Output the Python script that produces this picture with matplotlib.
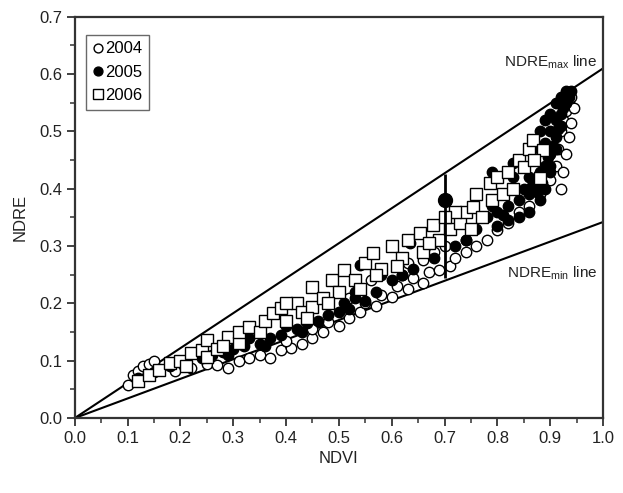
import matplotlib
matplotlib.use("Agg")
import matplotlib.pyplot as plt
from matplotlib.ticker import MultipleLocator

plt.rcParams['font.family'] = ['Liberation Sans', 'DejaVu Sans']

# ---- data ----
x2004 = [0.10, 0.11, 0.12, 0.13, 0.14, 0.15, 0.16, 0.19, 0.22, 0.25, 0.27, 0.29,
         0.31, 0.33, 0.35, 0.37, 0.39, 0.41, 0.43, 0.45, 0.47, 0.48, 0.50, 0.52,
         0.54, 0.55, 0.57, 0.58, 0.60, 0.61, 0.63, 0.64, 0.66, 0.67, 0.69, 0.71,
         0.72, 0.74, 0.76, 0.78, 0.80, 0.82, 0.84, 0.86, 0.88, 0.90, 0.91, 0.915,
         0.92, 0.925, 0.93, 0.935, 0.94, 0.63, 0.68, 0.70, 0.56, 0.52,
         0.945, 0.94, 0.935, 0.93, 0.925, 0.92, 0.62, 0.66, 0.74, 0.45, 0.40]
y2004 = [0.058, 0.075, 0.082, 0.090, 0.095, 0.100, 0.085, 0.082, 0.088, 0.095, 0.092, 0.088,
         0.100, 0.105, 0.110, 0.105, 0.118, 0.122, 0.130, 0.140, 0.150, 0.168, 0.160, 0.175,
         0.185, 0.200, 0.195, 0.215, 0.211, 0.230, 0.225, 0.245, 0.236, 0.255, 0.258, 0.265,
         0.280, 0.290, 0.300, 0.310, 0.328, 0.340, 0.360, 0.370, 0.390, 0.415, 0.440, 0.470,
         0.500, 0.520, 0.535, 0.550, 0.560, 0.270, 0.290, 0.300, 0.240, 0.210,
         0.540, 0.515, 0.490, 0.460, 0.430, 0.400, 0.250, 0.275, 0.310, 0.155, 0.135]

x2005 = [0.12, 0.15, 0.18, 0.21, 0.24, 0.26, 0.28, 0.30, 0.32, 0.33, 0.35, 0.37,
         0.39, 0.40, 0.42, 0.44, 0.46, 0.48, 0.50, 0.52, 0.53, 0.55, 0.57, 0.58,
         0.60, 0.62, 0.64, 0.635, 0.68, 0.72, 0.74, 0.76, 0.78, 0.79, 0.79, 0.80,
         0.82, 0.83, 0.84, 0.85, 0.86, 0.86, 0.87, 0.87, 0.88, 0.88, 0.88, 0.89,
         0.89, 0.89, 0.90, 0.90, 0.90, 0.91, 0.91, 0.91, 0.92, 0.92, 0.93, 0.93,
         0.94, 0.90, 0.89, 0.88, 0.86, 0.84, 0.82, 0.80, 0.54, 0.53, 0.51,
         0.915, 0.925, 0.905, 0.895, 0.885, 0.875, 0.865, 0.92, 0.91, 0.90, 0.935,
         0.43, 0.36, 0.29, 0.81, 0.83]
y2005 = [0.070, 0.080, 0.090, 0.100, 0.105, 0.110, 0.115, 0.120, 0.125, 0.140, 0.130, 0.140,
         0.145, 0.160, 0.155, 0.165, 0.170, 0.180, 0.185, 0.190, 0.210, 0.205, 0.220, 0.250,
         0.240, 0.250, 0.260, 0.305, 0.280, 0.300, 0.310, 0.330, 0.350, 0.370, 0.430, 0.360,
         0.370, 0.445, 0.380, 0.400, 0.390, 0.420, 0.410, 0.450, 0.430, 0.470, 0.500, 0.440,
         0.480, 0.520, 0.460, 0.500, 0.530, 0.490, 0.520, 0.550, 0.530, 0.560, 0.550, 0.570,
         0.570, 0.430, 0.400, 0.380, 0.360, 0.350, 0.345, 0.335, 0.267, 0.220, 0.200,
         0.505, 0.540, 0.475, 0.455, 0.410, 0.395, 0.405, 0.510, 0.470, 0.440, 0.560,
         0.150, 0.125, 0.110, 0.355, 0.420]

x2006 = [0.12, 0.14, 0.16, 0.18, 0.20, 0.22, 0.24, 0.25, 0.25, 0.27, 0.29, 0.31,
         0.31, 0.33, 0.35, 0.36, 0.375, 0.39, 0.40, 0.42, 0.43, 0.45, 0.45, 0.47,
         0.487, 0.50, 0.51, 0.53, 0.55, 0.565, 0.58, 0.60, 0.62, 0.63, 0.653, 0.66,
         0.678, 0.69, 0.71, 0.73, 0.74, 0.754, 0.76, 0.77, 0.786, 0.79, 0.80, 0.81,
         0.82, 0.83, 0.84, 0.85, 0.86, 0.867, 0.88, 0.886, 0.87, 0.75, 0.72, 0.70,
         0.57, 0.48, 0.40, 0.61, 0.67, 0.54, 0.44, 0.21, 0.28]
y2006 = [0.065, 0.075, 0.084, 0.096, 0.100, 0.113, 0.119, 0.136, 0.106, 0.120, 0.141, 0.131,
         0.150, 0.159, 0.150, 0.170, 0.183, 0.192, 0.170, 0.200, 0.185, 0.229, 0.194, 0.210,
         0.241, 0.220, 0.258, 0.240, 0.270, 0.288, 0.260, 0.300, 0.280, 0.310, 0.323, 0.290,
         0.337, 0.310, 0.330, 0.340, 0.360, 0.368, 0.390, 0.350, 0.410, 0.380, 0.420, 0.390,
         0.430, 0.400, 0.450, 0.438, 0.470, 0.485, 0.419, 0.468, 0.450, 0.330, 0.360, 0.350,
         0.250, 0.200, 0.200, 0.265, 0.305, 0.225, 0.175, 0.090, 0.125]

# highlighted point with range bar
hx, hy = 0.70, 0.38
h_low, h_high = 0.245, 0.425

# boundary line slopes
max_slope = 0.61
min_slope = 0.342

# ---- figure ----
fig = plt.figure(figsize=(6.23, 4.93), dpi=100)
ax = fig.add_axes([0.120, 0.152, 0.848, 0.814])

ax.plot([0, 1], [0, max_slope], color='k', lw=1.5, zorder=2)
ax.plot([0, 1], [0, min_slope], color='k', lw=1.5, zorder=2)

ax.plot(x2004, y2004, 'o', ms=7.5, mfc='white', mec='k', mew=1.0, ls='none',
        label='2004', zorder=3)
ax.plot(x2005, y2005, 'o', ms=7.5, mfc='k', mec='k', mew=1.0, ls='none',
        label='2005', zorder=3)
ax.plot(x2006, y2006, 's', ms=8, mfc='white', mec='k', mew=1.0, ls='none',
        label='2006', zorder=3)

ax.errorbar([hx], [hy], yerr=[[hy - h_low], [h_high - hy]], fmt='o', ms=10,
            color='k', elinewidth=2, capsize=0, zorder=5)

ax.set_xlim(0, 1.0)
ax.set_ylim(0, 0.7)
ax.xaxis.set_major_locator(MultipleLocator(0.1))
ax.xaxis.set_minor_locator(MultipleLocator(0.05))
ax.yaxis.set_major_locator(MultipleLocator(0.1))
ax.yaxis.set_minor_locator(MultipleLocator(0.05))
ax.xaxis.set_major_formatter(plt.FormatStrFormatter('%.1f'))
ax.yaxis.set_major_formatter(plt.FormatStrFormatter('%.1f'))

for s in ax.spines.values():
    s.set_linewidth(1.6)
    s.set_color('#333333')
ax.tick_params(which='both', direction='out', top=False, right=False,
               color='#333333', labelsize=12, labelcolor='#222222')
ax.tick_params(which='major', length=6, width=1.3, pad=3)
ax.tick_params(which='minor', length=3.5, width=1.1)

ax.set_xlabel('NDVI', fontsize=12, color='#222222', labelpad=4)
ax.set_ylabel('NDRE', fontsize=12, color='#222222', labelpad=8)

ax.text(0.989, 0.621, r'NDRE$_{\mathregular{max}}$ line', ha='right', va='center',
        fontsize=11, color='#222222')
ax.text(0.989, 0.253, r'NDRE$_{\mathregular{min}}$ line', ha='right', va='center',
        fontsize=11, color='#222222')

leg = ax.legend(loc='upper left', bbox_to_anchor=(0.022, 0.955), fontsize=12,
                frameon=True, fancybox=False, edgecolor='#444444',
                handlelength=0.6, handletextpad=0.15, borderpad=0.4,
                labelspacing=0.5, borderaxespad=0.0, markerscale=0.85)
leg.get_frame().set_linewidth(1.0)

fig.savefig('out.png', dpi=100)
